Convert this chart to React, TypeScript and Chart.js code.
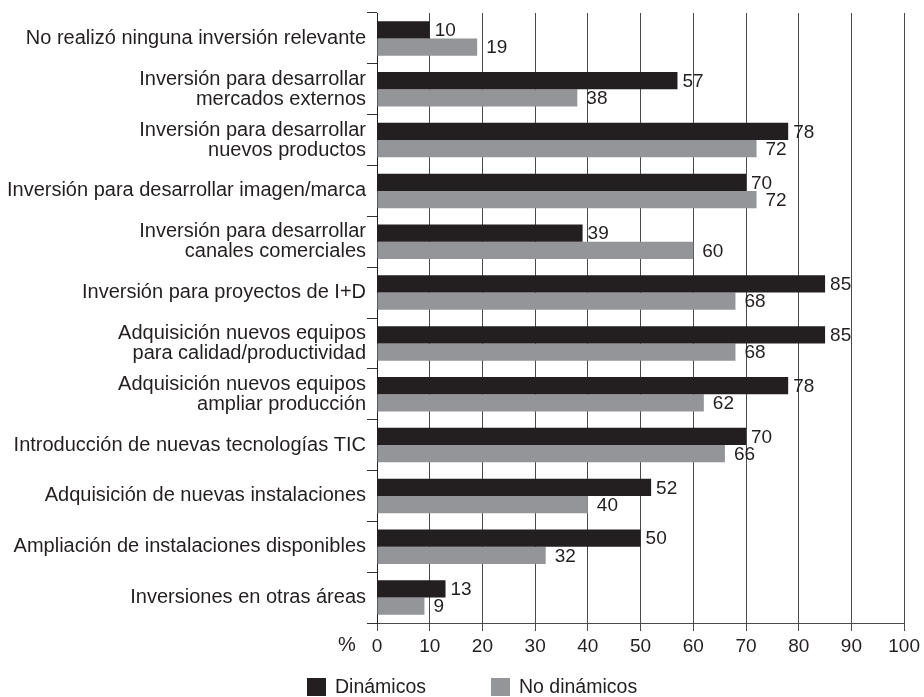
import React, { useEffect, useRef } from "react";
import { Chart, registerables } from "chart.js";

Chart.register(...registerables);

const categories: string[][] = [
  ["No realizó ninguna inversión relevante"],
  ["Inversión para desarrollar", "mercados externos"],
  ["Inversión para desarrollar", "nuevos productos"],
  ["Inversión para desarrollar imagen/marca"],
  ["Inversión para desarrollar", "canales comerciales"],
  ["Inversión para proyectos de I+D"],
  ["Adquisición nuevos equipos", "para calidad/productividad"],
  ["Adquisición nuevos equipos", "ampliar producción"],
  ["Introducción de nuevas tecnologías TIC"],
  ["Adquisición de nuevas instalaciones"],
  ["Ampliación de instalaciones disponibles"],
  ["Inversiones en otras áreas"],
];

const dinamicos = [10, 57, 78, 70, 39, 85, 85, 78, 70, 52, 50, 13];
const noDinamicos = [19, 38, 72, 72, 60, 68, 68, 62, 66, 40, 32, 9];

const seriesNames = ["Dinámicos", "No dinámicos"];
const axisUnit = "%";

const DARK = "#231f20";
const GRAY = "#939598";
const FONT = '"Liberation Sans", Arial, Helvetica, sans-serif';

const overlayPlugin = {
  id: "overlay",
  afterDraw(chart: any) {
    const ctx = chart.ctx;
    ctx.save();
    // data labels
    ctx.font = `19px ${FONT}`;
    ctx.fillStyle = DARK;
    ctx.textBaseline = "middle";
    ctx.textAlign = "left";
    const offsets = [5, 9];
    chart.data.datasets.forEach((ds: any, di: number) => {
      const meta = chart.getDatasetMeta(di);
      meta.data.forEach((bar: any, i: number) => {
        ctx.fillText(String(ds.data[i]), bar.x + offsets[di], bar.y + 1);
      });
    });
    // unit label
    const xScale = chart.scales.x;
    ctx.textAlign = "center";
    ctx.font = `20px ${FONT}`;
    ctx.fillText(axisUnit, xScale.getPixelForValue(0) - 30, 645);
    // legend
    ctx.textAlign = "left";
    ctx.font = `19.5px ${FONT}`;
    const items = [
      { x: 307, color: DARK, label: seriesNames[0] },
      { x: 491, color: GRAY, label: seriesNames[1] },
    ];
    items.forEach((it) => {
      ctx.fillStyle = it.color;
      ctx.fillRect(it.x, 678, 19, 18);
      ctx.fillStyle = DARK;
      ctx.fillText(it.label, it.x + 28, 688);
    });
    ctx.restore();
  },
};

export default function App() {
  const ref = useRef<HTMLCanvasElement | null>(null);
  useEffect(() => {
    if (!ref.current) return;
    const chart = new Chart(ref.current, {
      type: "bar",
      data: {
        labels: categories,
        datasets: [
          {
            label: seriesNames[0],
            data: dinamicos,
            backgroundColor: DARK,
            categoryPercentage: 0.68,
            barPercentage: 1,
          },
          {
            label: seriesNames[1],
            data: noDinamicos,
            backgroundColor: GRAY,
            categoryPercentage: 0.68,
            barPercentage: 1,
          },
        ],
      },
      options: {
        indexAxis: "y",
        responsive: false,
        animation: false,
        layout: { padding: { top: 13, right: 17, bottom: 44, left: 0 } },
        plugins: {
          legend: { display: false },
          tooltip: { enabled: false },
        },
        scales: {
          x: {
            min: 0,
            max: 100,
            ticks: {
              stepSize: 10,
              padding: 4,
              color: DARK,
              font: { family: FONT, size: 19 },
            },
            grid: { color: "#4a4a4a", tickLength: 8, lineWidth: 1 },
            border: { color: "#4a4a4a" },
            afterFit: (s: any) => {
              s.height = 30;
            },
          },
          y: {
            offset: true,
            ticks: {
              padding: 1,
              color: DARK,
              autoSkip: false,
              font: { family: FONT, size: 20, lineHeight: 1.0 },
            },
            grid: {
              display: true,
              drawOnChartArea: false,
              drawTicks: true,
              tickLength: 10,
              offset: true,
              color: "#333",
            },
            border: { color: "#222" },
            afterFit: (s: any) => {
              s.width = 377;
            },
          },
        },
      },
      plugins: [overlayPlugin],
    } as any);
    return () => chart.destroy();
  }, []);
  return (
    <div style={{ position: "fixed", left: 0, top: 0, width: 924, height: 697, background: "#fff" }}>
      <canvas ref={ref} width={924} height={697} style={{ display: "block" }} />
    </div>
  );
}
